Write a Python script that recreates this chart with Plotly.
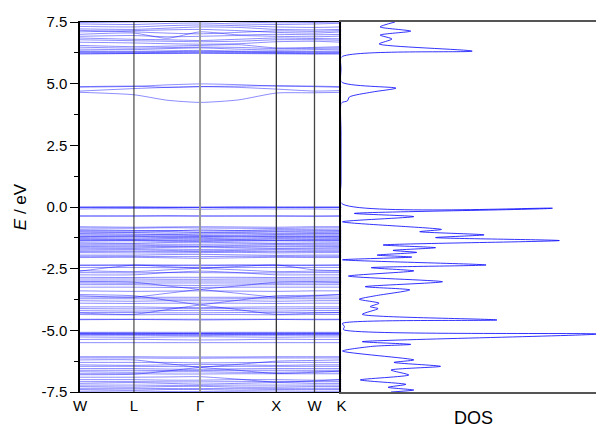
import numpy as np
import plotly.graph_objects as go

# ---- k-path: W - L - Γ - X - W - K (segment lengths in units of 2π/a) ----
k_labels = ["W", "L", "Γ", "X", "W", "K"]
segment_lengths = [0.7071, 0.8660, 1.0000, 0.5000, 0.3536]

# band energies (eV) sampled at: W, L, mid(L-Γ), Γ, mid(Γ-X), X, W, K
conduction_upper = [
    [6.20, 6.22, 6.22, 6.23, 6.22, 6.21, 6.20, 6.20],
    [6.23, 6.23, 6.24, 6.25, 6.24, 6.23, 6.22, 6.23],
    [6.26, 6.25, 6.27, 6.28, 6.27, 6.26, 6.25, 6.26],
    [6.30, 6.28, 6.30, 6.31, 6.30, 6.28, 6.28, 6.29],
    [6.33, 6.31, 6.33, 6.35, 6.32, 6.31, 6.31, 6.33],
    [6.40, 6.38, 6.42, 6.45, 6.40, 6.36, 6.38, 6.40],
    [6.48, 6.44, 6.46, 6.48, 6.47, 6.42, 6.43, 6.45],
    [6.55, 6.50, 6.52, 6.55, 6.58, 6.45, 6.47, 6.50],
    [6.68, 6.65, 6.62, 6.60, 6.62, 6.70, 6.72, 6.68],
    [6.78, 6.74, 6.72, 6.70, 6.72, 6.78, 6.78, 6.76],
    [6.85, 6.80, 6.78, 6.75, 6.80, 6.85, 6.83, 6.82],
    [6.92, 6.95, 6.90, 6.92, 6.95, 6.92, 6.90, 6.93],
    [7.00, 7.05, 6.84, 7.10, 6.98, 7.00, 6.98, 7.00],
    [7.10, 7.15, 7.18, 7.20, 7.15, 7.08, 7.05, 7.10],
    [7.16, 7.10, 7.05, 7.02, 7.08, 7.14, 7.12, 7.15],
    [7.22, 7.20, 7.25, 7.30, 7.28, 7.20, 7.18, 7.20],
    [7.32, 7.30, 7.35, 7.38, 7.35, 7.30, 7.28, 7.30],
    [7.42, 7.40, 7.44, 7.46, 7.42, 7.40, 7.42, 7.45],
    [7.48, 7.50, 7.52, 7.55, 7.50, 7.47, 7.48, 7.50],
]

conduction_lower = [
    [4.65, 4.55, 4.33, 4.24, 4.34, 4.62, 4.63, 4.65],
    [4.70, 4.80, 4.85, 4.88, 4.85, 4.78, 4.70, 4.72],
    [4.86, 4.89, 4.95, 4.99, 4.96, 4.90, 4.88, 4.85],
    [4.88, 4.90, 4.85, 4.88, 4.90, 4.92, 4.90, 4.88],
]

valence = [
    [0.00, 0.00, 0.00, 0.00, 0.00, 0.00, 0.00, 0.00],
    [-0.01, -0.01, -0.02, -0.02, -0.01, -0.01, -0.01, -0.01],
    [-0.02, -0.01, -0.02, -0.02, -0.01, -0.02, -0.02, -0.02],
    [-0.08, -0.06, -0.07, -0.09, -0.07, -0.08, -0.08, -0.09],
    [-0.36, -0.36, -0.35, -0.36, -0.36, -0.36, -0.37, -0.36],
    [-0.37, -0.37, -0.37, -0.37, -0.37, -0.37, -0.37, -0.37],
    [-0.80, -0.82, -0.81, -0.80, -0.81, -0.82, -0.80, -0.80],
    [-0.85, -0.86, -0.84, -0.85, -0.86, -0.87, -0.85, -0.85],
    [-0.92, -0.95, -0.97, -0.93, -0.95, -0.92, -0.92, -0.93],
    [-0.96, -0.97, -0.95, -0.97, -0.96, -0.97, -0.96, -0.96],
    [-1.00, -1.02, -1.00, -1.03, -1.01, -1.00, -1.01, -1.00],
    [-1.05, -1.04, -1.06, -1.05, -1.04, -1.06, -1.05, -1.05],
    [-1.08, -1.10, -1.12, -1.10, -1.08, -1.10, -1.08, -1.08],
    [-1.13, -1.14, -1.13, -1.15, -1.14, -1.13, -1.13, -1.13],
    [-1.18, -1.18, -1.18, -1.18, -1.18, -1.18, -1.18, -1.18],
    [-1.20, -1.19, -1.21, -1.20, -1.19, -1.20, -1.20, -1.19],
    [-1.24, -1.25, -1.24, -1.24, -1.25, -1.24, -1.24, -1.24],
    [-1.28, -1.30, -1.28, -1.27, -1.30, -1.28, -1.29, -1.28],
    [-1.32, -1.32, -1.33, -1.32, -1.32, -1.33, -1.32, -1.32],
    [-1.36, -1.36, -1.36, -1.36, -1.36, -1.36, -1.36, -1.36],
    [-1.38, -1.37, -1.39, -1.40, -1.38, -1.37, -1.38, -1.38],
    [-1.45, -1.47, -1.44, -1.43, -1.45, -1.47, -1.46, -1.45],
    [-1.50, -1.50, -1.51, -1.51, -1.50, -1.50, -1.50, -1.50],
    [-1.55, -1.55, -1.57, -1.58, -1.56, -1.54, -1.55, -1.55],
    [-1.60, -1.61, -1.60, -1.60, -1.61, -1.60, -1.60, -1.60],
    [-1.65, -1.66, -1.64, -1.63, -1.65, -1.67, -1.66, -1.65],
    [-1.70, -1.70, -1.71, -1.72, -1.71, -1.70, -1.70, -1.70],
    [-1.75, -1.74, -1.76, -1.78, -1.76, -1.74, -1.75, -1.75],
    [-1.80, -1.80, -1.81, -1.80, -1.80, -1.81, -1.80, -1.80],
    [-1.85, -1.86, -1.86, -1.85, -1.84, -1.86, -1.85, -1.85],
    [-1.95, -1.95, -1.93, -1.92, -1.94, -1.96, -1.95, -1.95],
    [-2.00, -2.00, -2.01, -2.01, -2.00, -2.00, -2.00, -2.00],
    [-2.05, -2.04, -2.06, -2.08, -2.06, -2.04, -2.05, -2.05],
    [-2.35, -2.35, -2.35, -2.35, -2.35, -2.35, -2.35, -2.35],
    [-2.37, -2.36, -2.37, -2.38, -2.36, -2.37, -2.37, -2.36],
    [-2.45, -2.45, -2.46, -2.46, -2.45, -2.45, -2.45, -2.45],
    [-2.58, -2.62, -2.55, -2.48, -2.41, -2.35, -2.55, -2.58],
    [-2.60, -2.36, -2.42, -2.48, -2.55, -2.62, -2.60, -2.60],
    [-2.66, -2.67, -2.66, -2.66, -2.67, -2.67, -2.66, -2.66],
    [-2.75, -2.75, -2.66, -2.60, -2.66, -2.75, -2.75, -2.75],
    [-2.85, -2.86, -2.85, -2.85, -2.85, -2.86, -2.85, -2.85],
    [-2.92, -2.92, -2.93, -2.93, -2.92, -2.92, -2.92, -2.92],
    [-3.00, -3.00, -3.00, -3.00, -3.00, -3.00, -3.00, -3.00],
    [-3.03, -3.05, -3.20, -3.34, -3.50, -3.65, -3.60, -3.55],
    [-3.60, -3.65, -3.50, -3.34, -3.20, -3.05, -3.03, -3.05],
    [-3.08, -3.09, -3.08, -3.08, -3.08, -3.09, -3.08, -3.08],
    [-3.15, -3.15, -3.17, -3.18, -3.16, -3.15, -3.15, -3.15],
    [-3.25, -3.25, -3.26, -3.26, -3.25, -3.25, -3.25, -3.25],
    [-3.40, -3.42, -3.41, -3.40, -3.41, -3.42, -3.40, -3.40],
    [-3.55, -3.60, -3.78, -3.97, -4.16, -4.35, -4.30, -4.28],
    [-4.30, -4.35, -4.16, -3.97, -3.78, -3.60, -3.58, -3.55],
    [-3.65, -3.66, -3.66, -3.66, -3.66, -3.66, -3.65, -3.65],
    [-3.72, -3.72, -3.73, -3.73, -3.72, -3.72, -3.72, -3.72],
    [-3.80, -3.82, -3.80, -3.80, -3.80, -3.82, -3.80, -3.80],
    [-3.90, -3.91, -3.90, -3.90, -3.90, -3.91, -3.90, -3.90],
    [-4.05, -4.05, -4.07, -4.08, -4.06, -4.05, -4.05, -4.05],
    [-4.12, -4.13, -4.12, -4.12, -4.12, -4.13, -4.12, -4.12],
    [-4.20, -4.22, -4.20, -4.19, -4.20, -4.22, -4.20, -4.20],
    [-4.28, -4.28, -4.29, -4.29, -4.28, -4.28, -4.28, -4.28],
    [-4.36, -4.37, -4.36, -4.36, -4.36, -4.37, -4.36, -4.36],
    [-4.55, -4.55, -4.55, -4.55, -4.55, -4.55, -4.55, -4.55],
    [-4.57, -4.56, -4.57, -4.58, -4.57, -4.56, -4.57, -4.57],
    [-5.08, -5.08, -5.08, -5.08, -5.08, -5.08, -5.08, -5.08],
    [-5.11, -5.11, -5.12, -5.12, -5.11, -5.11, -5.11, -5.11],
    [-5.13, -5.13, -5.13, -5.13, -5.13, -5.13, -5.13, -5.13],
    [-5.15, -5.15, -5.15, -5.15, -5.15, -5.15, -5.15, -5.15],
    [-5.16, -5.17, -5.16, -5.16, -5.17, -5.17, -5.16, -5.16],
    [-5.20, -5.20, -5.21, -5.21, -5.20, -5.20, -5.20, -5.20],
    [-5.27, -5.28, -5.27, -5.26, -5.27, -5.28, -5.27, -5.27],
    [-5.37, -5.36, -5.38, -5.39, -5.38, -5.36, -5.37, -5.37],
    [-5.50, -5.50, -5.50, -5.50, -5.50, -5.50, -5.50, -5.50],
    [-6.07, -6.07, -6.08, -6.08, -6.08, -6.07, -6.07, -6.07],
    [-6.12, -6.12, -6.13, -6.13, -6.12, -6.12, -6.12, -6.12],
    [-6.20, -6.20, -6.35, -6.50, -6.62, -6.75, -6.70, -6.65],
    [-6.80, -6.78, -6.65, -6.50, -6.38, -6.25, -6.22, -6.20],
    [-6.30, -6.30, -6.30, -6.32, -6.31, -6.30, -6.30, -6.30],
    [-6.40, -6.42, -6.40, -6.38, -6.40, -6.42, -6.40, -6.40],
    [-6.46, -6.46, -6.47, -6.47, -6.46, -6.46, -6.46, -6.46],
    [-6.55, -6.55, -6.57, -6.58, -6.56, -6.55, -6.55, -6.55],
    [-6.62, -6.62, -6.63, -6.63, -6.62, -6.62, -6.62, -6.62],
    [-6.68, -6.70, -6.68, -6.68, -6.70, -6.70, -6.68, -6.68],
    [-6.76, -6.76, -6.77, -6.77, -6.76, -6.76, -6.76, -6.76],
    [-6.90, -6.90, -6.89, -6.88, -6.98, -7.10, -7.05, -7.00],
    [-7.00, -7.00, -7.02, -7.02, -7.00, -7.00, -7.02, -7.00],
    [-7.08, -7.08, -7.09, -7.09, -7.08, -7.08, -7.08, -7.08],
    [-7.15, -7.12, -7.15, -7.18, -7.15, -7.12, -7.15, -7.15],
    [-7.22, -7.22, -7.23, -7.23, -7.22, -7.22, -7.22, -7.22],
    [-7.28, -7.30, -7.28, -7.27, -7.30, -7.30, -7.28, -7.28],
    [-7.35, -7.35, -7.36, -7.36, -7.35, -7.35, -7.35, -7.35],
    [-7.40, -7.42, -7.40, -7.40, -7.42, -7.40, -7.40, -7.40],
    [-7.47, -7.46, -7.48, -7.48, -7.47, -7.46, -7.47, -7.47],
]

# density of states (arb. units) vs energy (eV)
dos_energy = [7.50, 7.30, 7.13, 6.97, 6.81, 6.61, 6.32, 6.08, 5.60, 5.07,
              4.82, 4.66, 4.46, 4.30, 4.22, 3.00, 1.00, 0.15, -0.05, -0.26,
              -0.39, -0.60, -0.91, -1.00, -1.13, -1.24, -1.36, -1.54, -1.65, -1.76,
              -1.84, -1.95, -2.03, -2.14, -2.35, -2.46, -2.59, -2.80, -3.03, -3.23,
              -3.36, -3.60, -3.74, -3.90, -4.04, -4.12, -4.35, -4.58, -4.72, -4.85,
              -4.97, -5.15, -5.46, -5.57, -5.65, -5.84, -6.20, -6.30, -6.46, -6.61,
              -6.81, -7.01, -7.19, -7.31, -7.42, -7.50]
dos_values = [5.4, 3.9, 7.0, 3.9, 5.1, 3.8, 13.2, 0.0, 0.0, 0.0,
              5.5, 3.1, 0.8, 0.6, 0.0, 0.0, 0.0, 0.0, 21.3, 1.3,
              7.3, 0.1, 10.1, 7.9, 14.4, 9.5, 22.0, 4.2, 9.5, 5.2,
              7.6, 3.6, 7.1, 0.1, 14.6, 3.0, 7.3, 0.7, 10.2, 2.4,
              6.9, 3.4, 1.8, 3.8, 2.9, 3.7, 2.1, 15.7, 0.1, 0.3,
              0.2, 25.8, 2.1, 7.0, 3.1, 0.1, 7.3, 5.3, 10.0, 5.0,
              6.8, 1.9, 6.5, 4.7, 7.3, 5.0]

y_tick_values = [7.5, 5.0, 2.5, 0.0, -2.5, -5.0, -7.5]
y_tick_labels = ["7.5", "5.0", "2.5", "0.0", "-2.5", "-5.0", "-7.5"]
y_minor_values = [6.25, 3.75, 1.25, -1.25, -3.75, -6.25]

# node positions along the path
k_sym = np.concatenate([[0.0], np.cumsum(segment_lengths)])
k_nodes = np.array([k_sym[0], k_sym[1], 0.5 * (k_sym[1] + k_sym[2]), k_sym[2],
                    0.5 * (k_sym[2] + k_sym[3]), k_sym[3], k_sym[4], k_sym[5]])

FONT = "Liberation Sans, Arial, sans-serif"
band_color = "rgba(0,0,255,0.45)"

fig = go.Figure()

for band in conduction_upper + conduction_lower + valence:
    fig.add_trace(go.Scatter(
        x=k_nodes, y=band, mode="lines",
        line=dict(color=band_color, width=1, shape="spline", smoothing=0.6),
        hoverinfo="skip", showlegend=False, xaxis="x", yaxis="y"))

fig.add_trace(go.Scatter(
    x=dos_values, y=dos_energy, mode="lines",
    line=dict(color="rgba(0,0,255,0.8)", width=1, shape="spline", smoothing=0.7),
    hoverinfo="skip", showlegend=False, xaxis="x2", yaxis="y2"))

# high-symmetry vertical guides
guide_colors = ["#222222", "#999999", "#333333", "#444444"]
guide_widths = [1, 2, 1.3, 1.3]
for kx, c, w in zip(k_sym[1:5], guide_colors, guide_widths):
    fig.add_shape(type="line", xref="x", yref="y domain", x0=kx, x1=kx, y0=0, y1=1,
                  line=dict(color=c, width=w), layer="above")

split = (344 - 80) / (601 - 80)

fig.update_layout(
    width=601, height=428,
    margin=dict(l=80, r=0, t=22, b=36),
    paper_bgcolor="white", plot_bgcolor="white",
    font=dict(family=FONT, size=15, color="black"),
    xaxis=dict(domain=[0, split], range=[k_sym[0], k_sym[-1]],
               tickmode="array", tickvals=list(k_sym), ticktext=k_labels,
               ticks="", showgrid=False, zeroline=False,
               showline=True, mirror=True, linecolor="black", linewidth=1.2,
               tickfont=dict(size=15)),
    yaxis=dict(range=[-7.5, 7.5], tickmode="array", tickvals=y_tick_values,
               ticktext=y_tick_labels, ticks="outside", ticklen=8, tickwidth=1.2,
               tickcolor="black",
               minor=dict(tickmode="array", tickvals=y_minor_values, ticks="outside",
                          ticklen=4, tickwidth=1.2, tickcolor="black", showgrid=False),
               showgrid=False, zeroline=False, showline=True, linecolor="black",
               linewidth=1.5, tickfont=dict(size=15),
               title=dict(text="<i>E</i> / eV", font=dict(size=17), standoff=10)),
    xaxis2=dict(domain=[split, 1], range=[0, 25.7], showticklabels=False, ticks="",
                showgrid=False, zeroline=False, showline=True, mirror=True,
                linecolor="#555555", linewidth=2, anchor="y2"),
    yaxis2=dict(range=[-7.5, 7.5], anchor="x2", showticklabels=False, ticks="",
                showgrid=False, zeroline=False, showline=True, linecolor="black",
                linewidth=1.5),
    annotations=[dict(text="DOS", xref="paper", yref="paper",
                      x=(477 - 80) / (601 - 80), y=-26 / 370, xanchor="center",
                      yanchor="middle", showarrow=False,
                      font=dict(family=FONT, size=18, color="black"))],
)

fig.write_html("out.html")
